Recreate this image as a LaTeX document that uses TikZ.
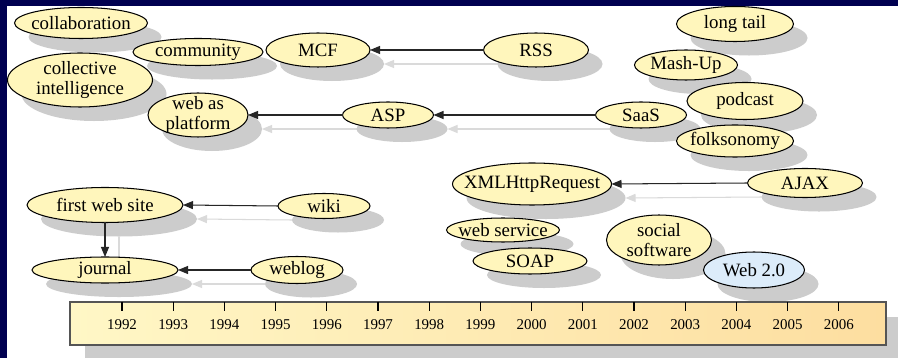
\documentclass[tikz,border=0pt]{standalone}
\usepackage{fontspec}
\setmainfont{Liberation Serif}
\usepackage{xcolor}
\usepackage{tikz}
\usetikzlibrary{positioning,arrows.meta,shapes.geometric,shadows}

\definecolor{slidenavy}{RGB}{0,0,80}
\definecolor{termfill}{RGB}{255,246,188}
\definecolor{webfill}{RGB}{220,236,250}
\definecolor{shadegray}{RGB}{204,204,204}
\definecolor{trailgray}{RGB}{218,218,218}
\definecolor{barleft}{RGB}{255,247,198}
\definecolor{barright}{RGB}{253,222,160}
\definecolor{barline}{RGB}{85,85,85}

\newdimen\pxu
\pxu=0.01in

\pgfdeclarelayer{panel}
\pgfdeclarelayer{trail}
\pgfsetlayers{panel,trail,main}

\begin{document}
\begin{tikzpicture}[x=\pxu, y=-\pxu,
    term/.style={ellipse, draw=black, line width=0.75pt, fill=termfill,
        inner xsep=-1.5cm, inner ysep=-1cm, outer sep=0pt, align=center,
        font=\fontsize{13.6}{14.6}\selectfont,
        drop shadow={shadow xshift=0.14in, shadow yshift=-0.14in, fill=shadegray, opacity=1}},
    link/.style={-{Triangle[length=0.1in, width=0.08in]}, line width=0.75pt, draw=black!85},
    trace/.style={-{Triangle[length=0.1in, width=0.08in]}, line width=0.75pt, draw=trailgray,
        transform canvas={xshift=0.14in, yshift=-0.14in}}]
\useasboundingbox (0,0) rectangle (898,358);

\begin{pgfonlayer}{panel}
\fill[slidenavy] (0,0) rectangle (898,358);
\fill[white] (7,6) rectangle (898,358);
\fill[shadegray] (85,317) rectangle (898,358);
\end{pgfonlayer}

\node[term, minimum width=133\pxu, minimum height=31\pxu] (term_collab) at (81,23) {collaboration};
\node[term, minimum width=130\pxu, minimum height=27\pxu] (term_community) at (198,52) {community};
\node[term, minimum width=104\pxu, minimum height=34\pxu] (term_mcf) at (318,50) {MCF};
\node[term, minimum width=105\pxu, minimum height=34\pxu] (term_rss) at (536,50) {RSS};
\node[term, minimum width=145\pxu, minimum height=54\pxu] (term_collective) at (80,80) {collective\\intelligence};
\node[term, minimum width=100\pxu, minimum height=44\pxu] (term_platform) at (198,115) {web as\\platform};
\node[term, minimum width=91\pxu, minimum height=26\pxu] (term_asp) at (388,115) {ASP};
\node[term, minimum width=91\pxu, minimum height=26\pxu] (term_saas) at (641,115) {SaaS};
\node[term, minimum width=117\pxu, minimum height=35\pxu] (term_longtail) at (735,24) {long tail};
\node[term, minimum width=103\pxu, minimum height=30\pxu] (term_mashup) at (686,65) {Mash-Up};
\node[term, minimum width=116\pxu, minimum height=37\pxu] (term_podcast) at (745,101) {podcast};
\node[term, minimum width=117\pxu, minimum height=32\pxu] (term_folksonomy) at (735,141) {folksonomy};
\node[term, minimum width=159\pxu, minimum height=42\pxu] (term_xhr) at (532,184) {XMLHttpRequest};
\node[term, minimum width=115\pxu, minimum height=29\pxu] (term_ajax) at (805,183) {AJAX};
\node[term, minimum width=156\pxu, minimum height=35\pxu] (term_firstsite) at (105,205) {first web site};
\node[term, minimum width=92\pxu, minimum height=25\pxu] (term_wiki) at (324,206) {wiki};
\node[term, minimum width=113\pxu, minimum height=24\pxu] (term_webservice) at (503,230) {web service};
\node[term, minimum width=114\pxu, minimum height=26\pxu] (term_soap) at (530,261) {SOAP};
\node[term, minimum width=105\pxu, minimum height=50\pxu] (term_social) at (659,240) {social\\software};
\node[term, fill=webfill, minimum width=101\pxu, minimum height=36\pxu] (term_web20) at (754,270) {Web 2.0};
\node[term, minimum width=146\pxu, minimum height=26\pxu] (term_journal) at (105,270) {journal};
\node[term, minimum width=92\pxu, minimum height=27\pxu] (term_weblog) at (297,270) {weblog};

\node[draw=barline, line width=1.3pt, left color=barleft, right color=barright,
    minimum width=816\pxu, minimum height=43\pxu, inner sep=0pt] (timeline) at (478,323.5) {};
\foreach \yr [count=\i from 0] in {1992,...,2006} {
    \draw[line width=0.75pt] (122+51.2*\i,302) -- (122+51.2*\i,311);
    \node[font=\fontsize{10.8}{12}\selectfont] (year_\yr) at (122+51.2*\i,325) {\yr};
}

\begin{pgfonlayer}{trail}
\draw[trace] (term_rss.west) -- (term_mcf.east);
\draw[trace] (term_saas.west) -- (term_asp.east);
\draw[trace] (term_asp.west) -- (term_platform.east);
\draw[trace] (term_ajax.west) -- (term_xhr.east);
\draw[trace] (term_wiki.west) -- (term_firstsite.east);
\draw[trace] (term_weblog.west) -- (term_journal.east);
\draw[trace] (term_firstsite.south) -- (term_journal.north);
\end{pgfonlayer}

\draw[link] (term_rss.west) -- (term_mcf.east);
\draw[link] (term_saas.west) -- (term_asp.east);
\draw[link] (term_asp.west) -- (term_platform.east);
\draw[link] (term_ajax.west) -- (term_xhr.east);
\draw[link] (term_wiki.west) -- (term_firstsite.east);
\draw[link] (term_weblog.west) -- (term_journal.east);
\draw[link] (term_firstsite.south) -- (term_journal.north);

\end{tikzpicture}
\end{document}
